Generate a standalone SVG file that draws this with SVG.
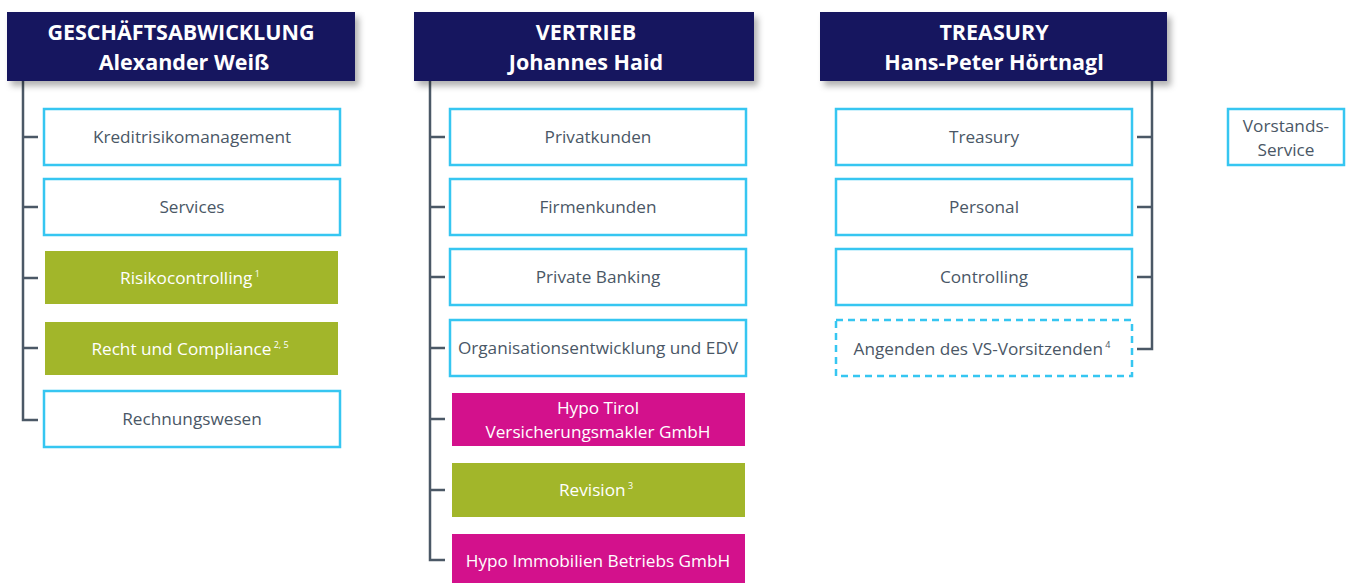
<svg xmlns="http://www.w3.org/2000/svg" width="1349" height="583" viewBox="0 0 1349 583">
<defs>
<filter id="sh" x="-10%" y="-20%" width="130%" height="160%">
<feDropShadow dx="4" dy="5" stdDeviation="3" flood-color="#000" flood-opacity="0.3"/>
</filter>
</defs>
<style>
.hd{fill:#14185e;filter:url(#sh)}
.ht{font-family:"Open Sans","Noto Sans",sans-serif;font-weight:bold;font-size:21.5px;fill:#fff;text-anchor:middle}
.bx{fill:#fff;stroke:#36c6f1;stroke-width:2.5}
.dx{fill:#fff;stroke:#36c6f1;stroke-width:2.5;stroke-dasharray:7,5}
.gr{fill:#a2b62a}
.mg{fill:#d3118c}
.t{font-family:"Open Sans","Noto Sans",sans-serif;font-size:17.2px;fill:#4a5766;text-anchor:middle}
.tw{font-family:"Open Sans","Noto Sans",sans-serif;font-size:17.2px;fill:#fff;text-anchor:middle}
.sup{font-size:9px}
.cn{fill:none;stroke:#4b5866;stroke-width:2.5}
</style>
<g id="connectors">
<path class="cn" d="M23,81 V420 H38 M23,137 H38 M23,207 H38 M23,278 H38 M23,348 H38"/>
<path class="cn" d="M430,81 V560 H445 M430,137 H445 M430,207 H445 M430,277 H445 M430,348 H445 M430,419 H445 M430,490 H445"/>
<path class="cn" d="M1152,81 V349 H1137 M1152,137 H1137 M1152,207 H1137 M1152,277 H1137"/>
</g>
<g id="h1"><rect class="hd" x="7" y="12" width="348" height="69"/><text class="ht" x="181" y="40">GESCHÄFTSABWICKLUNG</text><text class="ht" x="184" y="70">Alexander Weiß</text></g>
<g id="h2"><rect class="hd" x="414" y="12" width="340" height="69"/><text class="ht" x="586" y="40">VERTRIEB</text><text class="ht" x="586" y="70">Johannes Haid</text></g>
<g id="h3"><rect class="hd" x="820" y="12" width="347" height="69"/><text class="ht" x="994" y="40">TREASURY</text><text class="ht" x="994" y="70">Hans-Peter Hörtnagl</text></g>
<g id="n1"><rect class="bx" x="44" y="109" width="296" height="56"/><text class="t" x="192" y="143">Kreditrisikomanagement</text></g>
<g id="n2"><rect class="bx" x="44" y="179" width="296" height="56"/><text class="t" x="192" y="213">Services</text></g>
<g id="n3"><rect class="gr" x="45" y="251" width="293" height="53"/><text class="tw" x="190" y="284">Risikocontrolling<tspan class="sup" dy="-7"> 1</tspan></text></g>
<g id="n4"><rect class="gr" x="45" y="322" width="293" height="53"/><text class="tw" x="190" y="355">Recht und Compliance<tspan class="sup" dy="-7"> 2, 5</tspan></text></g>
<g id="n5"><rect class="bx" x="44" y="391" width="296" height="56"/><text class="t" x="192" y="425">Rechnungswesen</text></g>
<g id="n6"><rect class="bx" x="450" y="109" width="296" height="56"/><text class="t" x="598" y="143">Privatkunden</text></g>
<g id="n7"><rect class="bx" x="450" y="179" width="296" height="56"/><text class="t" x="598" y="213">Firmenkunden</text></g>
<g id="n8"><rect class="bx" x="450" y="249" width="296" height="56"/><text class="t" x="598" y="283">Private Banking</text></g>
<g id="n9"><rect class="bx" x="450" y="320" width="296" height="56"/><text class="t" x="598" y="354">Organisationsentwicklung und EDV</text></g>
<g id="n10"><rect class="mg" x="452" y="393" width="293" height="53"/><text class="tw" x="598" y="414">Hypo Tirol</text><text class="tw" x="598" y="438">Versicherungsmakler GmbH</text></g>
<g id="n11"><rect class="gr" x="452" y="463" width="293" height="54"/><text class="tw" x="596" y="496">Revision<tspan class="sup" dy="-7"> 3</tspan></text></g>
<g id="n12"><rect class="mg" x="452" y="534" width="293" height="53"/><text class="tw" x="598" y="567">Hypo Immobilien Betriebs GmbH</text></g>
<g id="n13"><rect class="bx" x="836" y="109" width="296" height="56"/><text class="t" x="984" y="143">Treasury</text></g>
<g id="n14"><rect class="bx" x="836" y="179" width="296" height="56"/><text class="t" x="984" y="213">Personal</text></g>
<g id="n15"><rect class="bx" x="836" y="249" width="296" height="56"/><text class="t" x="984" y="283">Controlling</text></g>
<g id="n16"><rect class="dx" x="836" y="320" width="296" height="56"/><text class="t" x="982" y="355">Angenden des VS-Vorsitzenden<tspan class="sup" dy="-7"> 4</tspan></text></g>
<g id="n17"><rect class="bx" x="1228" y="109" width="116" height="56"/><text class="t" x="1286" y="132">Vorstands-</text><text class="t" x="1286" y="156">Service</text></g>
</svg>
